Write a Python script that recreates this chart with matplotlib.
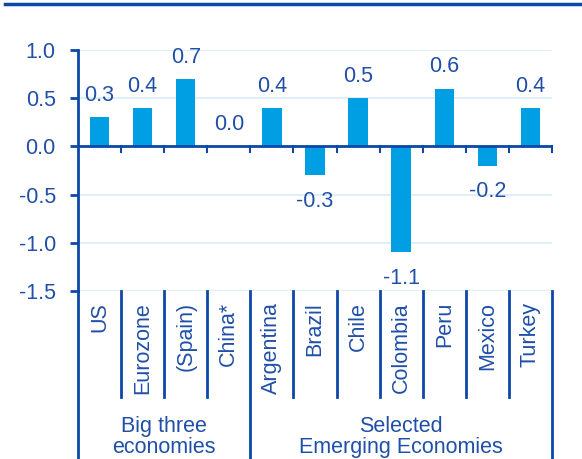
import matplotlib
matplotlib.use("Agg")
import matplotlib.pyplot as plt
import matplotlib.transforms as mtransforms
from matplotlib.lines import Line2D

categories = ["US", "Eurozone", "(Spain)", "China*", "Argentina", "Brazil",
              "Chile", "Colombia", "Peru", "Mexico", "Turkey"]
values = [0.3, 0.4, 0.7, 0.0, 0.4, -0.3, 0.5, -1.1, 0.6, -0.2, 0.4]
value_labels = ["0.3", "0.4", "0.7", "0.0", "0.4", "-0.3", "0.5", "-1.1", "0.6", "-0.2", "0.4"]
groups = ["Big three\neconomies", "Selected\nEmerging Economies"]
group_sizes = [4, 7]
yticks = [1.0, 0.5, 0.0, -0.5, -1.0, -1.5]
ytick_labels = ["1.0", "0.5", "0.0", "-0.5", "-1.0", "-1.5"]

TEXT = "#1f4fa8"
AXIS = "#0b48a8"
BAR = "#009fe3"
GRID = "#d7eef9"
FS = 15.5

plt.rcParams["font.family"] = ["Liberation Sans", "DejaVu Sans"]

W, H = 582, 459
fig = plt.figure(figsize=(W / 100, H / 100), dpi=100)
ax = fig.add_axes([78 / W, 1 - 291 / H, (552 - 78) / W, (291 - 50) / H])

n = len(categories)
x = list(range(n))
ax.bar(x, values, width=0.45, color=BAR, zorder=3)
ax.set_xlim(-0.5, n - 0.5)
ax.set_ylim(-1.5, 1.0)

for xi, v, lab in zip(x, values, value_labels):
    if v >= 0:
        ax.annotate(lab, (xi, v), xytext=(0, 8), textcoords="offset points",
                    ha="center", va="bottom", color=TEXT, fontsize=FS)
    else:
        ax.annotate(lab, (xi, v), xytext=(0, -11), textcoords="offset points",
                    ha="center", va="top", color=TEXT, fontsize=FS)

ax.set_yticks(yticks)
ax.set_yticklabels(ytick_labels, color=TEXT, fontsize=FS)
ax.tick_params(axis="y", direction="out", length=6, width=2, color=AXIS, pad=10)
ax.set_xticks([])
for s in ["top", "right", "bottom"]:
    ax.spines[s].set_visible(False)
ax.spines["left"].set_color(AXIS)
ax.spines["left"].set_linewidth(2)
ax.grid(axis="y", color=GRID, linewidth=1.2, zorder=0)
ax.set_axisbelow(True)
ax.axhline(0, color=AXIS, linewidth=2, zorder=4)

# small ticks below zero line at category boundaries
for b in range(1, n + 1):
    ax.plot([b - 0.5, b - 0.5], [0, -0.06], color=AXIS, linewidth=1.5, zorder=4, clip_on=False)

# category labels and separators below axes
trans = mtransforms.blended_transform_factory(ax.transData, fig.transFigure)
ylab_top = 1 - 302 / H
for xi, c in zip(x, categories):
    ax.text(xi, ylab_top, c, transform=trans, rotation=90, ha="center", va="top",
            color=TEXT, fontsize=FS)

group_bounds = [0]
for g in group_sizes:
    group_bounds.append(group_bounds[-1] + g)
y_axis_bottom = 1 - 291 / H
y_short = 1 - 397 / H
for b in range(0, n + 1):
    yb = 0 if b in group_bounds else y_short
    ax.add_line(Line2D([b - 0.5, b - 0.5], [y_axis_bottom, yb], transform=trans,
                       color=AXIS, linewidth=2, clip_on=False))

for i, g in enumerate(groups):
    center = (group_bounds[i] + group_bounds[i + 1]) / 2 - 0.5
    ax.text(center, 1 - 437 / H, g, transform=trans, ha="center", va="center",
            color=TEXT, fontsize=FS, linespacing=1.05)

# top border line
fig.add_artist(Line2D([5 / W, 1], [1 - 4 / H, 1 - 4 / H], transform=fig.transFigure,
                      color=AXIS, linewidth=2.5))

fig.savefig("out.png", dpi=100)
